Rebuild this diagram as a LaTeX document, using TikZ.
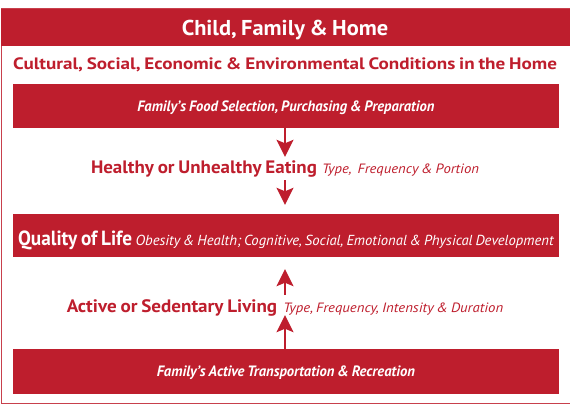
\documentclass[tikz,border=0pt]{standalone}
\usepackage{fontspec}
\setmainfont{PT Sans}
\usetikzlibrary{arrows.meta}
\definecolor{cred}{HTML}{BE1E2D}
\newlength\fitlen
\newcommand\fitx[2]{\settowidth{\fitlen}{#2}\pgfmathsetmacro\fitr{#1/\fitlen}\scalebox{\fitr}[1]{#2}}
\newcommand\fs[1]{\fontsize{#1}{#1}\selectfont\spaceskip=0.2em plus 0.05em minus 0.05em\relax}
\tikzset{
  redbox/.style={fill=cred, text=white, minimum width=546.3pt, inner sep=0pt, anchor=center},
  plain/.style={inner sep=0pt, anchor=base},
  arr/.style={draw=cred, line width=2pt, -{Stealth[length=17pt,width=17pt,inset=3.5pt]}},
  framec/.style={draw=cred!85, line width=1.4pt}
}
\begin{document}
\begin{tikzpicture}[x=1pt,y=-1pt]
\useasboundingbox (0,0) rectangle (570,405);
% frame and header
\draw[framec] (1.7,9) rectangle (580,403.6);
\fill[cred] (1,9) rectangle (580,46);
\node[plain, text=white] (title) at (285,35)
  {\fitx{206.5}{\fs{21.5}\bfseries Child, Family \& Home}};
\node[plain, text=cred] (sub) at (285,69.3)
  {\fitx{544}{\fs{16.5}\bfseries Cultural, Social, Economic \& Environmental Conditions in the Home}};
% boxes
\node[redbox, minimum height=44pt, text height=13pt, text depth=2pt] (box1) at (285.85,106)
  {\fitx{297}{\fs{15}\bfseries\itshape Family’s Food Selection, Purchasing \& Preparation}};
\node[redbox, minimum height=43pt, text height=21pt, text depth=2pt] (box3) at (285.85,235.5)
  {\fitx{114}{\fs{20.5}\bfseries Quality of Life}\hspace{3.5pt}\fitx{418}{\fs{14.5}\itshape Obesity \& Health; Cognitive, Social, Emotional \& Physical Development}};
\node[redbox, minimum height=44.7pt, text height=12.4pt, text depth=2pt] (box5) at (285.85,371.3)
  {\fitx{258}{\fs{15}\bfseries\itshape Family’s Active Transportation \& Recreation}};
% middle lines
\node[plain, text=cred, text height=16.3pt, text depth=6.7pt] (healthy) at (285,173.3)
  {\fitx{226}{\fs{18}\bfseries Healthy or Unhealthy Eating}\hspace{5pt}\fitx{157}{\fs{13.5}\itshape Type,\ \ Frequency \& Portion}};
\node[plain, text=cred, text height=17.7pt, text depth=2.3pt] (active) at (285,312.7)
  {\fitx{210.5}{\fs{18}\bfseries Active or Sedentary Living}\hspace{6pt}\fitx{220}{\fs{13.5}\itshape Type, Frequency, Intensity \& Duration}};
% arrows
\draw[arr] (healthy.north |- box1.south) -- (healthy.north);
\draw[arr, shorten >=9pt] (healthy.south) -- (healthy.south |- box3.north);
\draw[arr, shorten >=12pt] (active.north) -- (active.north |- box3.south);
\draw[arr] (active.south |- box5.north) -- (active.south);
\end{tikzpicture}
\end{document}
